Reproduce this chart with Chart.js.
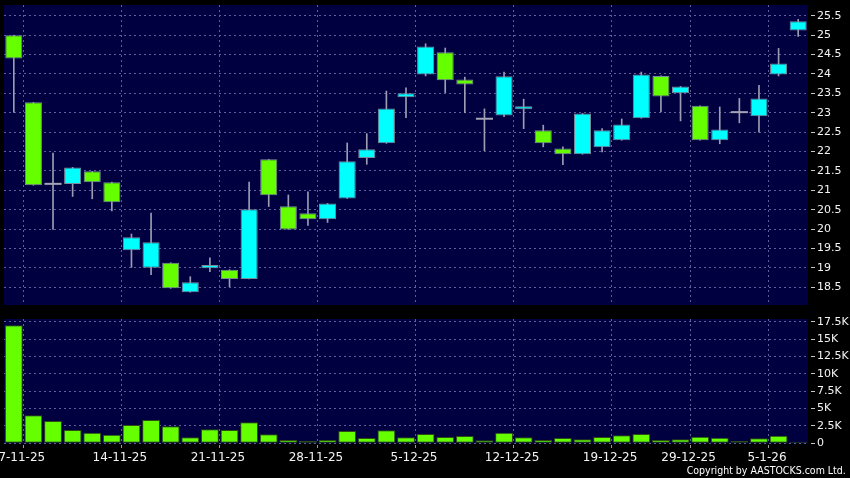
<!DOCTYPE html>
<html><head><meta charset="utf-8">
<script src="https://cdn.jsdelivr.net/npm/chart.js@4.4.1/dist/chart.umd.min.js"></script>
<style>
html,body{margin:0;padding:0;background:#000;width:850px;height:478px;overflow:hidden;}
#wrapA{position:absolute;left:0;top:0;width:850px;height:310px;}
#wrapB{position:absolute;left:0;top:310px;width:850px;height:168px;}
#copy{position:absolute;right:4px;top:464px;font-family:'DejaVu Sans';font-size:10.5px;line-height:12px;color:#fff;transform:scaleX(0.9);transform-origin:right center;white-space:nowrap;}
</style></head><body>
<div id="wrapA"><canvas id="price"></canvas></div>
<div id="wrapB"><canvas id="vol"></canvas></div>
<div id="copy">Copyright by AASTOCKS.com Ltd.</div>
<script>
const categories = ['7-11-25','10-11-25','11-11-25','12-11-25','13-11-25','14-11-25','17-11-25','18-11-25','19-11-25','20-11-25','21-11-25','24-11-25','25-11-25','26-11-25','27-11-25','28-11-25','1-12-25','2-12-25','3-12-25','4-12-25','5-12-25','8-12-25','9-12-25','10-12-25','11-12-25','12-12-25','15-12-25','16-12-25','17-12-25','18-12-25','19-12-25','22-12-25','23-12-25','24-12-25','29-12-25','30-12-25','31-12-25','2-1-26','5-1-26','6-1-26','7-1-26'];
const tickLabels = ['7-11-25','14-11-25','21-11-25','28-11-25','5-12-25','12-12-25','19-12-25','29-12-25','5-1-26'];
const priceTickValues = [18.5,19,19.5,20,20.5,21,21.5,22,22.5,23,23.5,24,24.5,25,25.5];
const volumeTickValues = [0,2500,5000,7500,10000,12500,15000,17500];
const openP  = [25.00,23.27,21.14,21.16,21.49,21.21,19.45,19.00,19.13,18.37,18.99,18.95,18.71,21.80,20.59,20.41,20.25,20.79,21.83,22.21,23.40,23.99,24.56,23.86,22.82,22.93,23.09,22.55,22.08,21.93,22.11,22.29,22.86,23.95,23.50,23.18,22.29,22.99,22.91,23.99,25.12];
const highP  = [25.00,23.27,21.96,21.59,21.49,21.21,19.87,20.41,19.13,18.77,19.26,18.95,21.21,21.80,20.88,20.96,20.66,22.22,22.46,23.56,23.64,24.78,24.67,23.92,23.10,24.05,23.35,22.68,22.12,22.98,22.59,22.84,24.05,23.95,23.68,23.18,23.15,23.37,23.71,24.66,25.41];
const lowP   = [23.01,21.13,19.99,20.84,20.78,20.47,19.01,18.82,18.47,18.37,18.90,18.51,18.71,20.58,19.99,20.09,20.17,20.79,21.67,22.21,22.87,23.95,23.52,23.00,22.02,22.90,22.59,22.12,21.66,21.93,21.99,22.29,22.86,23.02,22.79,22.29,22.20,22.74,22.50,23.95,24.97];
const closeP = [24.40,21.13,21.14,21.59,21.21,20.69,19.79,19.66,18.47,18.63,19.07,18.71,20.51,20.87,19.99,20.25,20.66,21.75,22.06,23.11,23.50,24.71,23.84,23.73,22.82,23.94,23.17,22.21,21.93,22.98,22.55,22.70,23.99,23.42,23.68,22.29,22.57,22.99,23.37,24.27,25.36];
const volume = [17000,4030,3210,1915,1530,1240,2635,3355,2445,865,2015,1915,3020,1295,475,375,475,1770,765,1870,865,1340,910,1055,430,1530,865,475,765,575,910,1150,1340,475,575,950,805,330,720,1095,230];

const UP='#00ffff', DOWN='#66ff00', DOJI='#a4a4b4', WICK='#9c9cb4', GRID='#5e5e98', PLOT='#000040';
Chart.defaults.font.family = "'DejaVu Sans', sans-serif";
Chart.defaults.animation = false;

const labeledIdx = new Set(tickLabels.map(l => categories.indexOf(l)));
const vGridColor = ctx => (ctx.index !== undefined && labeledIdx.has(ctx.index - 1)) ? GRID : 'rgba(0,0,0,0)';
const vTickColor = ctx => (ctx.index !== undefined && labeledIdx.has(ctx.index - 1)) ? '#9a9a9a' : 'rgba(0,0,0,0)';

const plotBg = {id:'plotBg', beforeDraw(chart){const {ctx, chartArea:a}=chart; ctx.save(); ctx.fillStyle=PLOT; ctx.fillRect(a.left,a.top,a.right-a.left,a.bottom-a.top); ctx.restore();}};

const kind = i => closeP[i] > openP[i] ? 'up' : (closeP[i] < openP[i] ? 'down' : 'doji');
const bodyFill = categories.map((_,i) => ({up:UP, down:DOWN, doji:DOJI})[kind(i)]);
const bodyBorder = categories.map((_,i) => kind(i)==='doji' ? DOJI : '#7a8a9a');
const bodyBW = categories.map((_,i) => kind(i)==='doji' ? 0 : 1);

const yTick = {color:'#f4f4f4', font:{size:11}, padding:2};
const yGrid = {color:GRID, tickColor:'#c8c8c8', tickLength:7, tickBorderDash:[0,3,4,100]};

new Chart(document.getElementById('price'), {
  data: {
    labels: categories,
    datasets: [
      {type:'bar', data: categories.map((_,i)=>[lowP[i], highP[i]]), backgroundColor: WICK, borderWidth:0, barThickness:1, grouped:false, order:2},
      {type:'bar', data: categories.map((_,i)=>[openP[i], closeP[i]]), backgroundColor: bodyFill, borderColor: bodyBorder, borderWidth: bodyBW, borderSkipped:false, barPercentage:0.87, categoryPercentage:1, grouped:false, minBarLength:2, order:1}
    ]
  },
  options: {
    responsive:true, maintainAspectRatio:false,
    layout:{padding:{left:4, top:5, right:0, bottom:5}},
    plugins:{legend:{display:false}, tooltip:{enabled:false}},
    scales:{
      x:{type:'category', offset:true, grid:{offset:true, color:vGridColor, drawTicks:false}, border:{display:false, dash:[2,3]}, ticks:{display:false},
         afterFit(s){s.height=0; s.paddingLeft=0; s.paddingRight=0;}},
      y:{position:'right', min:18.04, max:25.78, ticks:Object.assign({callback:v=>String(+(+v).toFixed(1))}, yTick),
         afterBuildTicks(s){s.ticks = priceTickValues.map(v=>({value:v}));},
         grid:yGrid, border:{display:false, dash:[2,3]},
         afterFit(s){s.width=42; s.paddingTop=0; s.paddingBottom=0;}}
    }
  },
  plugins:[plotBg]
});

new Chart(document.getElementById('vol'), {
  data: {
    labels: categories,
    datasets: [
      {type:'bar', data: volume, backgroundColor: DOWN, borderColor:'#2c4c14', borderWidth:1, borderSkipped:false, barPercentage:0.91, categoryPercentage:1}
    ]
  },
  options: {
    responsive:true, maintainAspectRatio:false,
    layout:{padding:{left:4, top:9, right:0, bottom:0}},
    plugins:{legend:{display:false}, tooltip:{enabled:false}},
    scales:{
      x:{type:'category', offset:true,
         grid:{offset:true, color:vGridColor, tickColor:vTickColor, tickLength:5, tickBorderDash:[0,2,3,100]},
         border:{display:false, dash:[2,3]},
         ticks:{autoSkip:false, maxRotation:0, minRotation:0, color:'#f4f4f4', font:{size:12}, padding:2, labelOffset:8,
                callback:(v,i)=> labeledIdx.has(i) ? categories[i] : ''},
         afterFit(s){s.height=34.7; s.paddingLeft=0; s.paddingRight=0;}},
      y:{position:'right', min:0, max:17890, ticks:Object.assign({callback:v=> v===0 ? '0' : (v/1000)+'K'}, yTick),
         afterBuildTicks(s){s.ticks = volumeTickValues.map(v=>({value:v}));},
         grid:yGrid, border:{display:false, dash:[2,3]},
         afterFit(s){s.width=42; s.paddingTop=0; s.paddingBottom=0;}}
    }
  },
  plugins:[plotBg]
});
</script>
</body></html>
